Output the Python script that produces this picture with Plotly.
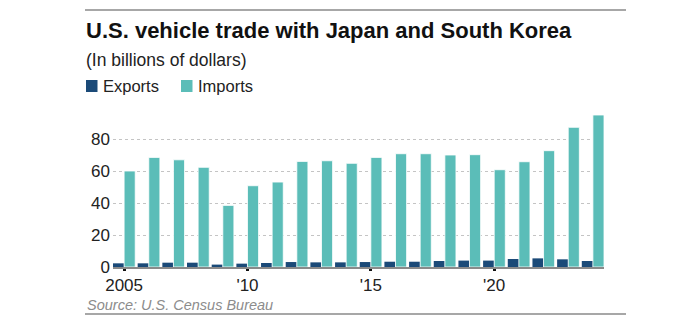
import plotly.graph_objects as go

# U.S. vehicle trade with Japan and South Korea, billions of dollars
years = list(range(2005, 2025))
exports = [2.3, 2.3, 2.7, 2.7, 1.5, 2.1, 2.5, 3.1, 2.9, 2.9,
           3.1, 3.3, 3.3, 3.75, 4.0, 4.0, 5.0, 5.4, 4.8, 3.75]
imports = [60.0, 68.5, 67.0, 62.3, 38.5, 50.8, 53.1, 66.0, 66.4, 64.8,
           68.5, 70.8, 70.8, 70.0, 70.2, 60.8, 65.8, 72.7, 87.3, 95.0]
x_tickvals = [2005, 2010, 2015, 2020]
x_ticktext = ["2005", "'10", "'15", "'20"]
y_tickvals = [0, 20, 40, 60, 80]

EXPORT_COLOR = "#1b4a78"
IMPORT_COLOR = "#5bbdb8"
FONT = "Liberation Sans, Arial, sans-serif"

W, H = 678, 324
L, R, T, B = 113, 74, 113, 57
PW, PH = W - L - R, H - T - B


def px(x):
    return (x - L) / PW


def py(y):
    return (H - B - y) / PH


fig = go.Figure()
fig.add_bar(x=years, y=exports, name="Exports", marker_color=EXPORT_COLOR,
            marker_line_width=0)
fig.add_bar(x=years, y=imports, name="Imports", marker_color=IMPORT_COLOR,
            marker_line=dict(color="rgba(255,255,255,0.8)", width=1))

shapes = [
    # top and bottom rules
    dict(type="line", xref="paper", yref="paper", x0=px(85), x1=px(626),
         y0=py(10), y1=py(10), line=dict(color="#8a8a8a", width=1.5)),
    dict(type="line", xref="paper", yref="paper", x0=px(85), x1=px(626),
         y0=py(314), y1=py(314), line=dict(color="#8a8a8a", width=1.5)),
    # legend swatches
    dict(type="rect", xref="paper", yref="paper", x0=px(86), x1=px(97.5),
         y0=py(80), y1=py(92), fillcolor=EXPORT_COLOR, line_width=0),
    dict(type="rect", xref="paper", yref="paper", x0=px(181), x1=px(192.5),
         y0=py(80), y1=py(92), fillcolor=IMPORT_COLOR, line_width=0),
]

annotations = [
    dict(text="<b>U.S. vehicle trade with Japan and South Korea</b>",
         x=px(84), y=py(30.5), xanchor="left", yanchor="middle",
         font=dict(size=22, color="#111111", family=FONT)),
    dict(text="(In billions of dollars)", x=px(84), y=py(60),
         xanchor="left", yanchor="middle",
         font=dict(size=17.5, color="#222222", family=FONT)),
    dict(text="Exports", x=px(100.5), y=py(86), xanchor="left", yanchor="middle",
         font=dict(size=16.5, color="#222222", family=FONT)),
    dict(text="Imports", x=px(195.5), y=py(86), xanchor="left", yanchor="middle",
         font=dict(size=16.5, color="#222222", family=FONT)),
    dict(text="<i>Source: U.S. Census Bureau</i>", x=px(85), y=py(305),
         xanchor="left", yanchor="middle",
         font=dict(size=14.5, color="#8c8c8c", family=FONT)),
]
for a in annotations:
    a.update(xref="paper", yref="paper", showarrow=False)

fig.update_layout(
    width=W, height=H,
    margin=dict(l=L, r=R, t=T, b=B, pad=0),
    paper_bgcolor="white", plot_bgcolor="white",
    barmode="group", bargap=0.1, bargroupgap=0,
    showlegend=False,
    font=dict(family=FONT, size=17, color="#222222"),
    shapes=shapes, annotations=annotations,
)
fig.update_xaxes(
    range=[2004.55, 2024.45], tickvals=x_tickvals, ticktext=x_ticktext,
    showgrid=False, zeroline=False,
    showline=True, linecolor="#8a8a8a", linewidth=1.5,
    ticks="outside", ticklen=2, tickwidth=3, tickcolor="#111111",
    tickfont=dict(size=17, color="#222222"),
)
fig.update_yaxes(
    range=[0, PH / 1.6], tickvals=y_tickvals,
    showgrid=True, gridcolor="#c4c4c4", griddash="dot", gridwidth=1,
    zeroline=False, showline=False, ticks="",
    ticklabelstandoff=2,
    tickfont=dict(size=17, color="#222222"),
)

fig.write_html("out.html")
